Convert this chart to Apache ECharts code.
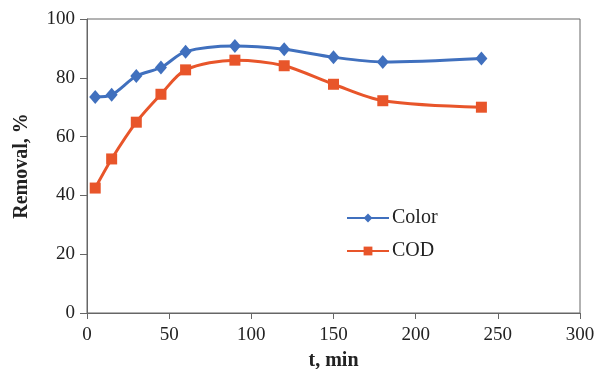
<!DOCTYPE html>
<html>
<head>
<meta charset="utf-8">
<script src="https://cdn.jsdelivr.net/npm/echarts@6/dist/echarts.min.js"></script>
<style>html,body{margin:0;padding:0;background:#fff}#c{width:597px;height:369px}</style>
</head>
<body>
<div id="c"></div>
<script>
var times = [5, 15, 30, 45, 60, 90, 120, 150, 180, 240];
var colorRemoval = [73.5, 74.2, 80.6, 83.5, 88.9, 90.8, 89.7, 87.0, 85.4, 86.6];
var codRemoval = [42.5, 52.4, 64.9, 74.4, 82.7, 86.0, 84.1, 77.8, 72.2, 70.0];
var seriesNames = ['Color', 'COD'];

function pairs(xs, ys) { return xs.map(function (x, i) { return [x, ys[i]]; }); }

var font = 'Liberation Serif';
var chart = echarts.init(document.getElementById('c'), null, { renderer: 'canvas' });
chart.setOption({
  animation: false,
  backgroundColor: '#fff',
  grid: { left: 87, right: 17, top: 19, bottom: 56, show: true, borderColor: '#666', borderWidth: 1,
          containLabel: false, outerBoundsMode: 'none' },
  legend: {
    left: 341, top: 203, orient: 'vertical', itemGap: 13, itemWidth: 42, itemHeight: 11,
    textStyle: { fontFamily: font, fontSize: 20, color: '#222', padding: [0, 0, 0, -2] },
    data: seriesNames
  },
  xAxis: {
    type: 'value', min: 0, max: 300, interval: 50,
    name: 't, min', nameLocation: 'middle', nameGap: 38,
    nameTextStyle: { fontFamily: font, fontSize: 20, fontWeight: 'bold', color: '#222' },
    axisLine: { lineStyle: { color: '#666' } },
    axisTick: { show: true, length: 6, lineStyle: { color: '#666' } },
    axisLabel: { fontFamily: font, fontSize: 19, color: '#222', margin: 13 },
    splitLine: { show: false }
  },
  yAxis: {
    type: 'value', min: 0, max: 100, interval: 20,
    name: 'Removal, %', nameLocation: 'middle', nameGap: 55,
    nameTextStyle: { fontFamily: font, fontSize: 20, fontWeight: 'bold', color: '#222' },
    axisLine: { show: true, lineStyle: { color: '#666' } },
    axisTick: { show: true, length: 7, lineStyle: { color: '#666' } },
    axisLabel: { fontFamily: font, fontSize: 19, color: '#222', margin: 12 },
    splitLine: { show: false }
  },
  series: [
    {
      name: seriesNames[0], type: 'line', smooth: 0.3,
      data: pairs(times, colorRemoval),
      symbol: 'diamond', symbolSize: [12, 14],
      lineStyle: { width: 3, color: '#4070BE' },
      itemStyle: { color: '#4070BE' }
    },
    {
      name: seriesNames[1], type: 'line', smooth: 0.3,
      data: pairs(times, codRemoval),
      symbol: 'rect', symbolSize: 11,
      lineStyle: { width: 3, color: '#E8552A' },
      itemStyle: { color: '#E8552A' }
    }
  ]
});
</script>
</body>
</html>
